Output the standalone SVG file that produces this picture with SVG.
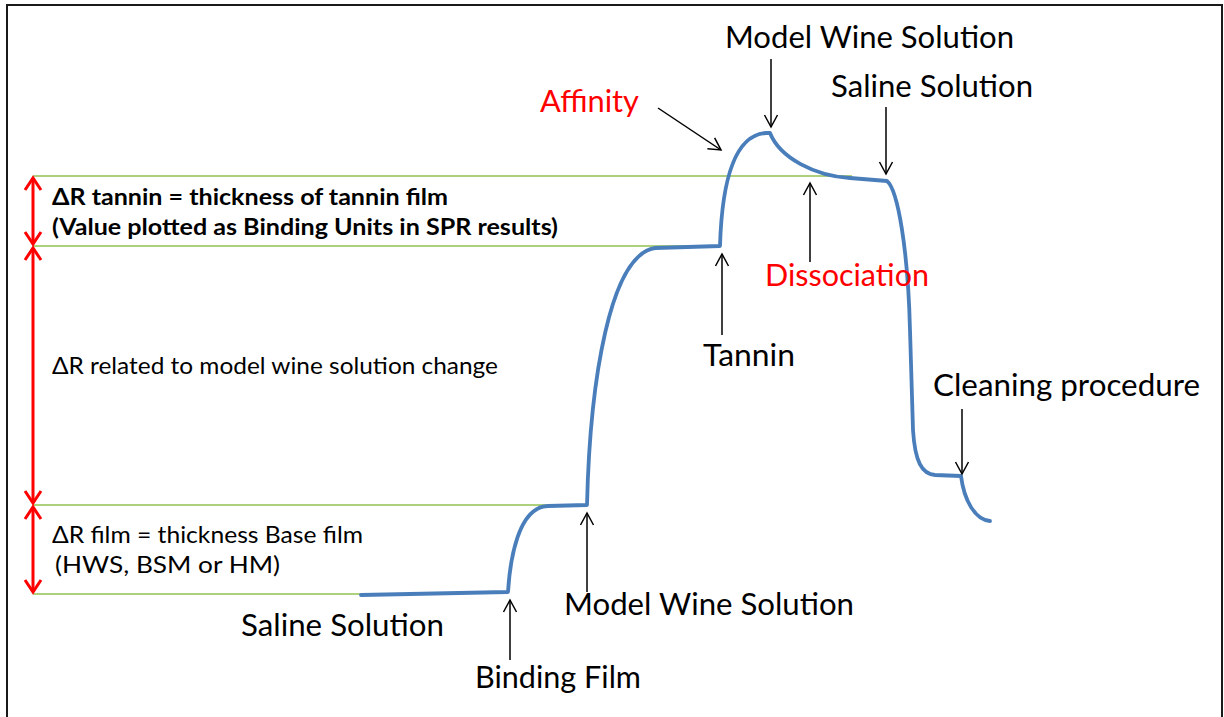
<svg xmlns="http://www.w3.org/2000/svg" width="1224" height="717" viewBox="0 0 1224 717">
<defs>
<style>
.t{font-family:Lato,"Open Sans","Liberation Sans",sans-serif;fill:#000}
.big{font-size:30px}
.sm{font-size:23.5px}
.b{font-size:22.5px;font-weight:bold}
.red{fill:#ff0000}
.g{stroke:#92c050;stroke-width:1.6;fill:none}
.ra{stroke:#ff0000;stroke-width:3;fill:none;marker-start:url(#rh);marker-end:url(#rh)}
.ba{stroke:#000;stroke-width:1.5;fill:none;marker-end:url(#bh)}
</style>
<marker id="bh" viewBox="-14 -8 16 16" refX="0" refY="0" markerWidth="16" markerHeight="16" markerUnits="userSpaceOnUse" orient="auto">
<path d="M-12,-6.5 L0,0 L-12,6.5" fill="none" stroke="#000" stroke-width="1.5"/>
</marker>
<marker id="rh" viewBox="-16 -10 19 20" refX="0" refY="0" markerWidth="19" markerHeight="20" markerUnits="userSpaceOnUse" orient="auto-start-reverse">
<path d="M-12,-8 L0,0 L-12,8" fill="none" stroke="#ff0000" stroke-width="3"/>
</marker>
</defs>
<rect x="0" y="0" width="1224" height="717" fill="#fff"/>
<rect id="frame" x="7" y="5" width="1215" height="730" fill="none" stroke="#1a1a1a" stroke-width="2"/>

<g id="baselines">
<line class="g" x1="33" y1="176" x2="852" y2="176"/>
<line class="g" x1="33" y1="246" x2="692" y2="246"/>
<line class="g" x1="33" y1="505" x2="588" y2="505"/>
<line class="g" x1="33" y1="594" x2="362" y2="594"/>
</g>

<g id="curve">
<path d="M361,595 L508,592 C510,560 518,507 548,506 L587,505 C590,380 610,255 655,248 L720,246 C722,180 735,135 766,133 L770,133 C780,158 815,176 850,178 L887,181 C898,190 908,250 910,330 L913,430 C915,462 922,474 935,475 L961,476 C964,500 975,520 990,521" fill="none" stroke="#4a7ebb" stroke-width="3.8" stroke-linejoin="round" stroke-linecap="round"/>
</g>

<g id="connectors">
<line class="ra" x1="33" y1="178" x2="33" y2="244"/>
<line class="ra" x1="33" y1="248" x2="33" y2="503"/>
<line class="ra" x1="33" y1="507" x2="33" y2="592"/>
<line class="ba" x1="658" y1="108" x2="721" y2="150"/>
<line class="ba" x1="771" y1="59" x2="771" y2="127"/>
<line class="ba" x1="886" y1="107" x2="886" y2="174"/>
<line class="ba" x1="810" y1="262" x2="810" y2="183"/>
<line class="ba" x1="722" y1="335" x2="722" y2="254"/>
<line class="ba" x1="587" y1="592" x2="587" y2="513"/>
<line class="ba" x1="510" y1="660" x2="510" y2="600"/>
<line class="ba" x1="962" y1="409" x2="962" y2="474"/>
</g>

<g id="label-model-wine-top"><text class="t big" x="725" y="48" textLength="289" lengthAdjust="spacingAndGlyphs">Model Wine Solution</text></g>
<g id="label-saline-top"><text class="t big" x="831" y="97" textLength="202" lengthAdjust="spacingAndGlyphs">Saline Solution</text></g>
<g id="label-affinity"><text class="t big red" x="540" y="112" textLength="99" lengthAdjust="spacingAndGlyphs">Affinity</text></g>
<g id="label-tannin-film">
<text class="t b" x="52" y="205" textLength="396" lengthAdjust="spacingAndGlyphs">ΔR tannin = thickness of tannin film</text>
<text class="t b" x="52" y="235" textLength="506" lengthAdjust="spacingAndGlyphs">(Value plotted as Binding Units in SPR results)</text>
</g>
<g id="label-dissociation"><text class="t big red" x="765" y="286" textLength="164" lengthAdjust="spacingAndGlyphs">Dissociation</text></g>
<g id="label-tannin"><text class="t big" x="703" y="366" textLength="92" lengthAdjust="spacingAndGlyphs">Tannin</text></g>
<g id="label-model-change"><text class="t sm" x="52" y="374" textLength="446" lengthAdjust="spacingAndGlyphs">ΔR related to model wine solution change</text></g>
<g id="label-cleaning"><text class="t big" x="933" y="396" textLength="267" lengthAdjust="spacingAndGlyphs">Cleaning procedure</text></g>
<g id="label-base-film">
<text class="t sm" x="52" y="543" textLength="311" lengthAdjust="spacingAndGlyphs">ΔR film = thickness Base film</text>
<text class="t sm" x="55" y="573" textLength="225" lengthAdjust="spacingAndGlyphs">(HWS, BSM or HM)</text>
</g>
<g id="label-model-wine-bottom"><text class="t big" x="564" y="615" textLength="290" lengthAdjust="spacingAndGlyphs">Model Wine Solution</text></g>
<g id="label-saline-bottom"><text class="t big" x="241" y="636" textLength="203" lengthAdjust="spacingAndGlyphs">Saline Solution</text></g>
<g id="label-binding-film"><text class="t big" x="475" y="688" textLength="166" lengthAdjust="spacingAndGlyphs">Binding Film</text></g>
</svg>
